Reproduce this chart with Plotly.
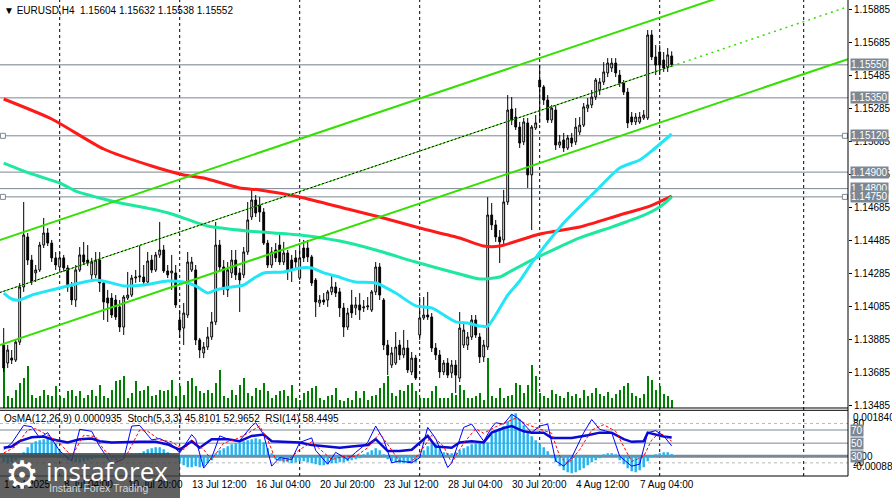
import plotly.graph_objects as go

# ---------------- EURUSD H4 candles (bar 0 = leftmost visible bar)
opens = [1.13852, 1.13743, 1.13773, 1.13761, 1.13870, 1.14204, 1.14507, 1.14367, 1.14289, 1.14307,
         1.14458, 1.14531, 1.14470, 1.14380, 1.14325, 1.14380, 1.14319, 1.14204, 1.14125, 1.14307,
         1.14398, 1.14367, 1.14277, 1.14277, 1.14367, 1.14228, 1.14137, 1.14137, 1.14125, 1.14083,
         1.13961, 1.14137, 1.14155, 1.14258, 1.14264, 1.14264, 1.14234, 1.14367, 1.14307, 1.14398,
         1.14428, 1.14301, 1.14289, 1.14289, 1.14004, 1.13955, 1.14034, 1.14307, 1.14307, 1.13883,
         1.13804, 1.13840, 1.13901, 1.13992, 1.14458, 1.14325, 1.14186, 1.14289, 1.14367, 1.14289,
         1.14277, 1.14416, 1.14628, 1.14731, 1.14701, 1.14658, 1.14470, 1.14337, 1.14428, 1.14458,
         1.14355, 1.14410, 1.14367, 1.14380, 1.14258, 1.14440, 1.14440, 1.14386, 1.14246, 1.14107,
         1.14125, 1.14125, 1.14174, 1.14204, 1.14174, 1.14077, 1.13961, 1.14095, 1.14077, 1.14095,
         1.14077, 1.14083, 1.14064, 1.14174, 1.14325, 1.14125, 1.13852, 1.13731, 1.13743, 1.13852,
         1.13792, 1.13834, 1.13689, 1.13773, 1.13913, 1.14016, 1.14034, 1.14022, 1.13834, 1.13792,
         1.13689, 1.13743, 1.13683, 1.13731, 1.13652, 1.13852, 1.13852, 1.13901, 1.14004, 1.13901,
         1.13780, 1.13840, 1.14640, 1.14580, 1.14507, 1.14489, 1.14719, 1.15282, 1.15234, 1.15173,
         1.15083, 1.15198, 1.14883, 1.15167, 1.15458, 1.15416, 1.15337, 1.15216, 1.15276, 1.15064,
         1.15095, 1.15046, 1.15107, 1.15083, 1.15143, 1.15185, 1.15288, 1.15307, 1.15355, 1.15398,
         1.15446, 1.15501, 1.15531, 1.15561, 1.15488, 1.15440, 1.15385, 1.15234, 1.15204, 1.15204,
         1.15228, 1.15228, 1.15731, 1.15598, 1.15628, 1.15579, 1.15537, 1.15604]
highs = [1.13955, 1.13852, 1.13822, 1.13883, 1.14228, 1.14719, 1.14531, 1.14398, 1.14337, 1.14477,
         1.14622, 1.14561, 1.14489, 1.14416, 1.14416, 1.14398, 1.14337, 1.14234, 1.14337, 1.14446,
         1.14477, 1.14458, 1.14380, 1.14416, 1.14416, 1.14246, 1.14186, 1.14167, 1.14155, 1.14125,
         1.14155, 1.14295, 1.14277, 1.14307, 1.14458, 1.14337, 1.14416, 1.14398, 1.14416, 1.14598,
         1.14458, 1.14337, 1.14398, 1.14337, 1.14064, 1.14107, 1.14416, 1.14386, 1.14337, 1.13895,
         1.13870, 1.13961, 1.14052, 1.14598, 1.14489, 1.14367, 1.14355, 1.14428, 1.14428, 1.14319,
         1.14446, 1.14719, 1.14792, 1.14761, 1.14749, 1.14682, 1.14489, 1.14446, 1.14470, 1.14531,
         1.14477, 1.14428, 1.14398, 1.14428, 1.14440, 1.14489, 1.14489, 1.14398, 1.14258, 1.14155,
         1.14167, 1.14186, 1.14277, 1.14234, 1.14198, 1.14107, 1.14077, 1.14186, 1.14143, 1.14167,
         1.14125, 1.14143, 1.14186, 1.14355, 1.14349, 1.14137, 1.13883, 1.13840, 1.13931, 1.13883,
         1.13943, 1.13883, 1.13810, 1.13792, 1.14143, 1.14143, 1.14174, 1.14046, 1.13864, 1.13822,
         1.13761, 1.13773, 1.13761, 1.13761, 1.14052, 1.13992, 1.13931, 1.14034, 1.14034, 1.13925,
         1.13883, 1.14749, 1.14713, 1.14610, 1.14549, 1.14792, 1.15367, 1.15355, 1.15288, 1.15204,
         1.15228, 1.15228, 1.15185, 1.15246, 1.15549, 1.15428, 1.15367, 1.15307, 1.15307, 1.15125,
         1.15137, 1.15125, 1.15137, 1.15228, 1.15234, 1.15319, 1.15349, 1.15398, 1.15470, 1.15470,
         1.15567, 1.15591, 1.15591, 1.15591, 1.15519, 1.15458, 1.15410, 1.15264, 1.15258, 1.15264,
         1.15276, 1.15761, 1.15761, 1.15670, 1.15670, 1.15628, 1.15652, 1.15632]
lows = [1.13689, 1.13713, 1.13737, 1.13749, 1.13852, 1.14174, 1.14337, 1.14216, 1.14234, 1.14295,
        1.14440, 1.14452, 1.14355, 1.14307, 1.14307, 1.14295, 1.14174, 1.14095, 1.14083, 1.14295,
        1.14337, 1.14331, 1.14246, 1.14258, 1.14174, 1.14004, 1.13992, 1.14016, 1.14004, 1.13931,
        1.13913, 1.14125, 1.14143, 1.14228, 1.14234, 1.14216, 1.14216, 1.14289, 1.14295, 1.14380,
        1.14289, 1.14258, 1.14186, 1.14077, 1.13895, 1.13852, 1.14016, 1.14295, 1.13852, 1.13773,
        1.13773, 1.13822, 1.13883, 1.13973, 1.14295, 1.14155, 1.14143, 1.14258, 1.14246, 1.14052,
        1.14258, 1.14398, 1.14610, 1.14628, 1.14598, 1.14458, 1.14319, 1.14319, 1.14355, 1.14337,
        1.14337, 1.14246, 1.14234, 1.14319, 1.14246, 1.14355, 1.14355, 1.14210, 1.14022, 1.14083,
        1.14095, 1.14083, 1.14155, 1.14143, 1.14022, 1.13901, 1.13943, 1.14016, 1.14034, 1.14004,
        1.14052, 1.14064, 1.14052, 1.14155, 1.14125, 1.13822, 1.13670, 1.13713, 1.13731, 1.13761,
        1.13773, 1.13683, 1.13670, 1.13640, 1.13883, 1.14004, 1.14004, 1.13810, 1.13761, 1.13652,
        1.13670, 1.13652, 1.13652, 1.13561, 1.13628, 1.13834, 1.13822, 1.13883, 1.13895, 1.13743,
        1.13749, 1.13822, 1.14549, 1.14477, 1.14349, 1.14458, 1.14701, 1.15185, 1.15155, 1.15046,
        1.15064, 1.14804, 1.14549, 1.15155, 1.15198, 1.15307, 1.15198, 1.15198, 1.15034, 1.15046,
        1.15022, 1.15034, 1.15052, 1.15064, 1.15125, 1.15173, 1.15264, 1.15288, 1.15337, 1.15367,
        1.15428, 1.15476, 1.15507, 1.15476, 1.15416, 1.15367, 1.15167, 1.15185, 1.15185, 1.15192,
        1.15216, 1.15216, 1.15579, 1.15488, 1.15488, 1.15507, 1.15507, 1.15538]
closes = [1.13713, 1.13822, 1.13761, 1.13870, 1.14204, 1.14519, 1.14367, 1.14234, 1.14307, 1.14458,
          1.14531, 1.14470, 1.14380, 1.14337, 1.14380, 1.14319, 1.14204, 1.14125, 1.14307, 1.14398,
          1.14355, 1.14349, 1.14355, 1.14367, 1.14228, 1.14113, 1.14107, 1.14034, 1.14022, 1.13961,
          1.14143, 1.14155, 1.14258, 1.14264, 1.14270, 1.14234, 1.14361, 1.14307, 1.14398, 1.14428,
          1.14301, 1.14277, 1.14301, 1.14095, 1.13943, 1.14046, 1.14355, 1.14355, 1.13883, 1.13822,
          1.13840, 1.13901, 1.13992, 1.14458, 1.14325, 1.14198, 1.14307, 1.14367, 1.14277, 1.14246,
          1.14416, 1.14610, 1.14731, 1.14652, 1.14658, 1.14470, 1.14337, 1.14416, 1.14380, 1.14355,
          1.14410, 1.14307, 1.14307, 1.14355, 1.14380, 1.14380, 1.14386, 1.14228, 1.14113, 1.14125,
          1.14113, 1.14174, 1.14204, 1.14167, 1.14077, 1.13961, 1.14046, 1.14046, 1.14095, 1.14064,
          1.14083, 1.14089, 1.14174, 1.14325, 1.14155, 1.13852, 1.13792, 1.13804, 1.13840, 1.13792,
          1.13834, 1.13701, 1.13773, 1.13652, 1.14016, 1.14034, 1.14022, 1.13834, 1.13792, 1.13689,
          1.13743, 1.13670, 1.13731, 1.13670, 1.13955, 1.13943, 1.13901, 1.14004, 1.13913, 1.13780,
          1.13852, 1.14640, 1.14580, 1.14507, 1.14477, 1.14719, 1.15276, 1.15216, 1.15173, 1.15076,
          1.15204, 1.14883, 1.15173, 1.15198, 1.15416, 1.15337, 1.15216, 1.15288, 1.15064, 1.15083,
          1.15046, 1.15107, 1.15076, 1.15173, 1.15185, 1.15295, 1.15307, 1.15355, 1.15458, 1.15446,
          1.15507, 1.15561, 1.15561, 1.15501, 1.15440, 1.15385, 1.15198, 1.15204, 1.15234, 1.15234,
          1.15246, 1.15731, 1.15598, 1.15549, 1.15549, 1.15531, 1.15610, 1.15552]
tick_volume = [42, 12, 10, 18, 25, 30, 42, 13, 10, 12, 18, 13, 12, 22, 12, 10, 17, 18, 12, 17,
               10, 13, 18, 12, 23, 12, 10, 18, 27, 28, 32, 10, 15, 27, 17, 18, 22, 12, 13, 18,
               17, 18, 28, 12, 22, 13, 27, 30, 22, 17, 15, 18, 15, 25, 38, 12, 10, 18, 13, 23,
               30, 15, 12, 20, 18, 25, 17, 10, 13, 17, 18, 12, 23, 10, 8, 15, 17, 20, 22, 10,
               8, 12, 13, 20, 8, 7, 10, 8, 17, 10, 17, 8, 12, 13, 20, 25, 32, 15, 12, 18,
               17, 23, 25, 17, 10, 10, 10, 17, 22, 10, 10, 10, 15, 13, 23, 18, 10, 10, 12, 15,
               8, 50, 12, 10, 20, 10, 12, 13, 25, 23, 15, 23, 43, 32, 15, 12, 10, 18, 14, 12,
               10, 16, 12, 14, 10, 18, 12, 15, 20, 14, 12, 16, 10, 14, 18, 22, 25, 15, 12, 10,
               14, 32, 28, 18, 22, 14, 12, 8]
bars = list(range(len(closes)))

# ---------------- moving averages (bar, price)
ma_red_bar = [0, 12, 25, 37, 45, 50, 59, 64, 74, 86, 94, 104, 114, 120, 124, 134, 144, 154, 161, 167]
ma_red = [1.15343, 1.15222, 1.15040, 1.14937, 1.14883, 1.14864, 1.14804, 1.14792, 1.14749, 1.14676,
          1.14628, 1.14561, 1.14501, 1.14452, 1.14452, 1.14525, 1.14567, 1.14640, 1.14689, 1.14755]
ma_teal_bar = [0, 7, 14, 18, 24, 28, 37, 42, 51, 61, 74, 84, 93, 103, 113, 119, 124, 126, 132, 144,
               152, 159, 164, 167]
ma_teal = [1.14955, 1.14889, 1.14834, 1.14785, 1.14743, 1.14719, 1.14676, 1.14646, 1.14573, 1.14543,
           1.14519, 1.14482, 1.14428, 1.14355, 1.14289, 1.14252, 1.14264, 1.14289, 1.14367, 1.14501,
           1.14567, 1.14628, 1.14689, 1.14749]
ma_cyan_bar = [0, 2, 4, 7, 12, 16, 19, 23, 26, 30, 35, 41, 45, 48, 51, 53, 57, 60, 63, 65, 70, 74,
               77, 80, 83, 88, 93, 98, 103, 107, 113, 116, 119, 121, 123, 126, 129, 132, 140, 148,
               154, 159, 162, 167]
ma_cyan = [1.14167, 1.14131, 1.14125, 1.14155, 1.14186, 1.14210, 1.14228, 1.14246, 1.14234, 1.14210,
           1.14216, 1.14240, 1.14234, 1.14210, 1.14167, 1.14186, 1.14204, 1.14216, 1.14264, 1.14289,
           1.14295, 1.14319, 1.14319, 1.14289, 1.14270, 1.14234, 1.14228, 1.14167, 1.14089, 1.14077,
           1.13992, 1.13986, 1.13967, 1.13967, 1.14034, 1.14155, 1.14240, 1.14349, 1.14592, 1.14785,
           1.14925, 1.14973, 1.15028, 1.15131]

# ---------------- trend channel (bar, price)
chan_bars = [-1, 211]
chan_upper = [1.14488, 1.16220]
chan_lower = [1.13852, 1.15584]
mid_bars = [-1, 167]
chan_mid = [1.14170, 1.15542]
mid_ray_bars = [167, 211]
chan_mid_ray = [1.15542, 1.15902]

# ---------------- horizontal levels
levels = [1.15550, 1.15350, 1.15120, 1.14900, 1.14800, 1.14750]
anchored_levels = [1.15120, 1.14750]
level_anchor_bars = [-0.2, 210.3]
price_ticks = [1.13485, 1.13685, 1.13885, 1.14085, 1.14285, 1.14485, 1.14685,
               1.14885, 1.15085, 1.15285, 1.15485, 1.15685, 1.15885]

# ---------------- oscillators
osma = [-0.00024, -0.00028, -0.00024, -0.00016, -0.00008,
        0.00016, 0.00036, 0.00052, 0.00060, 0.00064, 0.00068, 0.00072, 0.00068, 0.00052, 0.00024,
        -0.00008, -0.00016, -0.00020, -0.00024, -0.00024, -0.00020, -0.00016, -0.00012, -0.00008, -0.00004,
        -0.00008, -0.00012, -0.00016, -0.00016, -0.00012, -0.00008, -0.00004, 0.00004, 0.00008,
        0.00012, 0.00020, 0.00028, 0.00032, 0.00036, 0.00036, 0.00028, 0.00016,
        0.00004, -0.00008, -0.00024, -0.00036, -0.00044, -0.00044, -0.00040, -0.00044, -0.00040, -0.00028, -0.00016,
        0.00012, 0.00024, 0.00032, 0.00040, 0.00048, 0.00052, 0.00056, 0.00060, 0.00064, 0.00068, 0.00072,
        0.00068, 0.00056, 0.00032, 0.00012,
        -0.00012, -0.00020, -0.00024, -0.00024, -0.00028, -0.00024, -0.00020, -0.00020, -0.00024, -0.00028,
        -0.00032, -0.00036, -0.00036, -0.00032, -0.00028, -0.00028, -0.00024, -0.00024, -0.00020, -0.00016,
        -0.00012, -0.00008,
        0.00004, 0.00016, 0.00024, 0.00032, 0.00024, 0.00008,
        -0.00012, -0.00020, -0.00024, -0.00028, -0.00028, -0.00028, -0.00028, -0.00024,
        0.00008, 0.00024, 0.00040, 0.00052, 0.00048, 0.00032, 0.00016, 0.00012, 0.00012,
        0.00016, 0.00024, 0.00032, 0.00040, 0.00048, 0.00052, 0.00056, 0.00052,
        0.00056, 0.00088, 0.00104, 0.00112, 0.00120, 0.00140, 0.00168, 0.00172, 0.00148, 0.00124,
        0.00096, 0.00080, 0.00064, 0.00048, 0.00036, 0.00020, -0.00008,
        -0.00024, -0.00040, -0.00056, -0.00064, -0.00068, -0.00064, -0.00056, -0.00048, -0.00036, -0.00024,
        -0.00016, -0.00008,
        0.00004, 0.00012, 0.00012, 0.00008,
        -0.00016, -0.00032, -0.00048, -0.00060, -0.00064, -0.00056, -0.00044, -0.00020, -0.00004,
        0.00008, 0.00012, 0.00016, 0.00016, 0.0000935]
stoch_bar = [0, 2, 5, 7, 9, 11, 14, 17, 19, 22, 24, 27, 30, 32, 34, 37, 39, 42, 44, 47,
             48, 50, 52, 54, 57, 59, 62, 63, 65, 67, 69, 72, 74, 77, 78, 81, 83, 86, 88, 91,
             93, 95, 97, 99, 102, 104, 106, 108, 111, 112, 115, 117, 120, 122, 123, 125, 127, 129, 132, 134,
             136, 138, 140, 142, 145, 147, 149, 152, 154, 157, 159, 161, 163, 165, 167]
stoch_main = [40, 50, 77, 75, 58, 66, 38, 23, 71, 68, 45, 18, 26, 76, 77, 55, 57, 48, 35, 63,
              56, 12, 28, 61, 54, 54, 76, 81, 63, 15, 28, 25, 51, 58, 39, 18, 36, 25, 36, 51,
              76, 55, 20, 23, 20, 28, 74, 57, 13, 20, 74, 79, 53, 74, 81, 79, 94, 86, 66, 76,
              79, 23, 15, 28, 66, 86, 71, 66, 30, 15, 18, 66, 69, 61, 45.8101]
signal_bar = [0, 3, 6, 8, 11, 14, 17, 20, 23, 25, 29, 31, 34, 36, 39, 42, 45, 47, 50, 52,
              55, 58, 61, 64, 66, 68, 71, 74, 77, 80, 82, 85, 88, 91, 94, 96, 99, 102, 104, 107,
              110, 112, 115, 118, 120, 123, 126, 128, 131, 134, 137, 139, 141, 144, 147, 150, 153, 155, 157, 160,
              162, 164, 167]
stoch_signal = [35, 45, 70, 72, 62, 50, 30, 62, 60, 40, 22, 35, 70, 68, 55, 52, 40, 55, 40, 25,
                50, 56, 65, 76, 55, 25, 24, 40, 52, 35, 25, 30, 30, 43, 65, 48, 22, 22, 35, 62,
                45, 20, 50, 72, 65, 75, 83, 88, 78, 72, 65, 30, 18, 40, 70, 78, 68, 45, 22, 30,
                55, 66, 52.9652]
rsi_bar = [0, 2, 4, 7, 10, 12, 16, 19, 22, 24, 27, 31, 34, 38, 41, 44, 47, 49, 52, 56,
           59, 62, 65, 67, 71, 74, 77, 81, 84, 87, 91, 93, 96, 99, 102, 106, 108, 112, 114, 117,
           120, 122, 125, 127, 130, 132, 135, 137, 142, 146, 149, 152, 155, 157, 160, 161, 163, 165, 167]
rsi = [43, 45, 53, 59, 60, 56, 51, 56, 57, 53, 51, 52, 52, 52, 48, 40, 53, 43, 56, 56,
       53, 61, 63, 53, 52, 51, 47, 45, 43, 45, 47, 56, 38, 38, 40, 61, 45, 43, 51, 53,
       51, 66, 73, 76, 68, 66, 66, 58, 58, 62, 66, 66, 56, 52, 53, 66, 63, 60, 58.4495]

# ---------------- time axis
grid_bars = [14, 44, 74, 104, 134, 164, 200]
date_bars = [-0.9, 14, 30, 46, 62, 78, 94, 110, 126, 142, 158]
date_labels = ["1 Jul 2025", "8 Jul 04:00", "10 Jul 20:00", "13 Jul 12:00", "16 Jul 04:00",
               "20 Jul 20:00", "23 Jul 12:00", "28 Jul 04:00", "30 Jul 20:00", "4 Aug 12:00",
               "7 Aug 04:00"]

FONT = "Liberation Sans, Arial, sans-serif"
LEVEL_GRAY = "#7b8794"
MAIN_BOTTOM = 0.14286
OSC_TOP = 0.13803

fig = go.Figure()

# main window
fig.add_trace(go.Bar(x=bars, y=tick_volume, yaxis="y", width=0.25,
                     marker=dict(color="#008000", line=dict(width=0)), hoverinfo="skip"))
fig.add_trace(go.Candlestick(x=bars, open=opens, high=highs, low=lows, close=closes, yaxis="y2",
                             increasing=dict(line=dict(color="black", width=1), fillcolor="white"),
                             decreasing=dict(line=dict(color="black", width=1), fillcolor="black"),
                             whiskerwidth=0, hoverinfo="skip"))
for xs, ys, col in [(ma_red_bar, ma_red, "#ff1a1a"),
                    (ma_teal_bar, ma_teal, "#1ee8a0"),
                    (ma_cyan_bar, ma_cyan, "#22e6f6")]:
    fig.add_trace(go.Scatter(x=xs, y=ys, yaxis="y2", mode="lines",
                             line=dict(color=col, width=3, shape="spline", smoothing=0.6),
                             hoverinfo="skip"))
for ys in (chan_upper, chan_lower):
    fig.add_trace(go.Scatter(x=chan_bars, y=ys, yaxis="y2", mode="lines",
                             line=dict(color="#33e000", width=2), hoverinfo="skip"))
fig.add_trace(go.Scatter(x=mid_bars, y=chan_mid, yaxis="y2", mode="lines",
                         line=dict(color="#33e000", width=1), hoverinfo="skip"))
fig.add_trace(go.Scatter(x=mid_bars, y=chan_mid, yaxis="y2", mode="lines",
                         line=dict(color="black", width=1, dash="2px,2px"), hoverinfo="skip"))
fig.add_trace(go.Scatter(x=mid_ray_bars, y=chan_mid_ray, yaxis="y2", mode="lines",
                         line=dict(color="#33e000", width=1.5, dash="2px,4px"), hoverinfo="skip"))
for lv in anchored_levels:
    fig.add_trace(go.Scatter(x=level_anchor_bars, y=[lv] * len(level_anchor_bars), yaxis="y2",
                             mode="markers", cliponaxis=False,
                             marker=dict(symbol="square", size=5, color="white",
                                         line=dict(color=LEVEL_GRAY, width=1)),
                             hoverinfo="skip"))

# indicator window
fig.add_trace(go.Bar(x=bars, y=osma, yaxis="y3", width=0.6,
                     marker=dict(color="#1eb4f0", line=dict(width=0)), hoverinfo="skip"))
fig.add_trace(go.Scatter(x=rsi_bar, y=rsi, yaxis="y4", mode="lines",
                         line=dict(color="#0a0ad2", width=2.5), hoverinfo="skip"))
fig.add_trace(go.Scatter(x=stoch_bar, y=stoch_main, yaxis="y4", mode="lines",
                         line=dict(color="#0000ff", width=1), hoverinfo="skip"))
fig.add_trace(go.Scatter(x=signal_bar, y=stoch_signal, yaxis="y4", mode="lines",
                         line=dict(color="#ff0000", width=1, dash="3px,2px"), hoverinfo="skip"))

shapes = []
for b in grid_bars:
    shapes.append(dict(type="line", xref="x", yref="paper", x0=b, x1=b, y0=0, y1=1,
                       line=dict(color="black", width=1, dash="3px,3px"), layer="below"))
for i, lv in enumerate(levels):
    shapes.append(dict(type="line", xref="paper", yref="y2", x0=0, x1=1, y0=lv, y1=lv,
                       line=dict(color="#a0a8b0" if i == 0 else LEVEL_GRAY, width=1.5 if i == 0 else 1),
                       layer="below"))
for lv, dash, w in [(80, "3px,3px", 1), (20, "3px,3px", 1), (70, "solid", 1), (50, "solid", 1), (30, "solid", 3)]:
    shapes.append(dict(type="line", xref="paper", yref="y4", x0=0, x1=1, y0=lv, y1=lv,
                       line=dict(color="#b8b8b8" if dash != "solid" else LEVEL_GRAY, width=w, dash=dash),
                       layer="below"))
for y in (MAIN_BOTTOM, OSC_TOP, 0):
    shapes.append(dict(type="line", xref="paper", yref="paper", x0=0, x1=1, y0=y, y1=y,
                       line=dict(color="black", width=1)))
shapes.append(dict(type="line", xref="paper", yref="paper", x0=1, x1=1, y0=0, y1=1,
                   line=dict(color="black", width=1)))
# instaforex watermark box
shapes.append(dict(type="rect", xref="paper", yref="paper", x0=0, x1=180 / 848,
                   y0=-22 / 476, y1=23 / 476, fillcolor="rgba(62,62,62,0.82)",
                   line=dict(width=0), layer="above"))

ann = []
ann.append(dict(text="▼ EURUSD,H4  1.15604 1.15632 1.15538 1.15552", xref="paper", yref="paper",
                x=0, y=466 / 476, xanchor="left", yanchor="middle", xshift=2, showarrow=False,
                font=dict(family=FONT, size=10, color="black")))
ann.append(dict(text="OsMA(12,26,9) 0.0000935  Stoch(5,3,3) 45.8101 52.9652  RSI(14) 58.4495",
                xref="paper", yref="paper", x=0, y=58 / 476, xanchor="left", yanchor="middle",
                xshift=2, showarrow=False, font=dict(family=FONT, size=10, color="black")))
for lv in levels:
    ann.append(dict(text="%.5f" % lv, xref="paper", yref="y2", x=1, y=lv, xanchor="left",
                    yanchor="middle", xshift=2, showarrow=False, bgcolor=LEVEL_GRAY, borderpad=0,
                    font=dict(family=FONT, size=10, color="white")))
ann.append(dict(text="0.00184013", xref="paper", yref="paper", x=1, y=OSC_TOP, xanchor="left",
                yanchor="top", xshift=3, showarrow=False, font=dict(family=FONT, size=10, color="black")))
ann.append(dict(text="0.00", xref="paper", yref="y4", x=1, y=30, xanchor="left", yanchor="middle",
                xshift=3, showarrow=False, font=dict(family=FONT, size=10, color="black")))
for lv in (80, 20):
    ann.append(dict(text=str(lv), xref="paper", yref="y4", x=1, y=lv, xanchor="left", yanchor="middle",
                    xshift=3, showarrow=False, font=dict(family=FONT, size=10, color="black")))
for lv in (70, 50, 30):
    ann.append(dict(text=str(lv), xref="paper", yref="y4", x=1, y=lv, xanchor="left", yanchor="middle",
                    xshift=2, showarrow=False, bgcolor=LEVEL_GRAY, borderpad=0,
                    font=dict(family=FONT, size=10, color="white")))
ann.append(dict(text="-0.000885", xref="paper", yref="paper", x=1, y=0, xanchor="left",
                yanchor="bottom", xshift=3, yshift=2, showarrow=False,
                font=dict(family=FONT, size=10, color="black")))
for b, t in zip(date_bars, date_labels):
    ann.append(dict(text=t, xref="x", yref="paper", x=b, y=-9 / 476, xanchor="left", yanchor="middle",
                    xshift=2, showarrow=False, font=dict(family=FONT, size=10, color="black")))
ann.append(dict(text="⚙", xref="paper", yref="paper", x=22 / 848, y=1 / 476, xanchor="center",
                yanchor="middle", showarrow=False, font=dict(family="DejaVu Sans", size=38, color="white")))
ann.append(dict(text="instaforex", xref="paper", yref="paper", x=44 / 848, y=5 / 476, xanchor="left",
                yanchor="middle", showarrow=False, font=dict(family="Open Sans, sans-serif", size=26, color="white")))
ann.append(dict(text="Instant Forex Trading", xref="paper", yref="paper", x=47 / 848, y=-12 / 476,
                xanchor="left", yanchor="middle", showarrow=False,
                font=dict(family=FONT, size=10.5, color="#d8d8d8")))

fig.update_layout(
    width=892, height=498,
    margin=dict(l=0, r=44, t=0, b=22),
    paper_bgcolor="white", plot_bgcolor="white",
    showlegend=False, barmode="overlay", boxgap=0.35,
    xaxis=dict(range=[-0.925, 211.075], anchor="y3", showgrid=False, zeroline=False,
               showticklabels=False, showline=False, rangeslider=dict(visible=False)),
    yaxis=dict(domain=[MAIN_BOTTOM, 1], range=[0, 408], visible=False),
    yaxis2=dict(overlaying="y", side="right", anchor="x", range=[1.134705, 1.15943],
                tickvals=price_ticks, ticktext=["%.5f" % t for t in price_ticks],
                ticks="outside", ticklen=3, tickcolor="black", showgrid=False, zeroline=False,
                showline=False, tickfont=dict(family=FONT, size=10, color="black")),
    yaxis3=dict(domain=[0, OSC_TOP], range=[-0.00079, 0.00184], visible=False),
    yaxis4=dict(overlaying="y3", range=[0, 100], visible=False),
    shapes=shapes, annotations=ann,
)

# the page's default body margin would push the chart 8px off the window
fig.write_html("out.html", config={"displayModeBar": False},
               post_script="document.body.style.margin='0';")
